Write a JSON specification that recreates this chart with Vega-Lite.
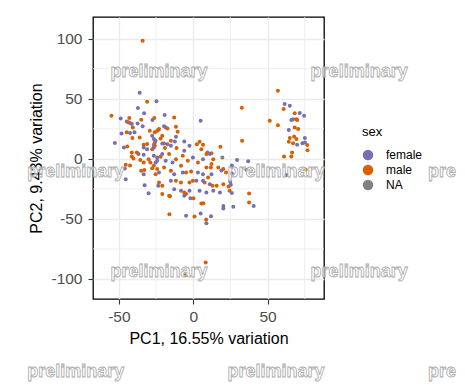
{
  "$schema": "https://vega.github.io/schema/vega-lite/v6.json",
  "autosize": {"type": "none"},
  "padding": {"left": 93, "top": 17, "right": 141, "bottom": 91},
  "width": 231,
  "height": 282,
  "background": "white",
  "config": {
    "font": "Liberation Sans",
    "view": {"stroke": "#000000", "strokeWidth": 1.3},
    "axis": {
      "domain": false,
      "grid": true,
      "gridColor": "#EBEBEB",
      "gridWidth": 1.4,
      "tickColor": "#333333",
      "tickSize": 5,
      "tickWidth": 1.1,
      "labelFont": "Liberation Sans",
      "labelFontSize": 15.5,
      "labelColor": "#4D4D4D",
      "labelPadding": 5,
      "titleFont": "Liberation Sans",
      "titleFontSize": 16,
      "titleFontWeight": "normal",
      "titleColor": "#000000"
    },
    "axisX": {"titlePadding": 6},
    "axisY": {"titlePadding": 6, "labelPadding": 6},
    "legend": {
      "orient": "none",
      "legendX": 269,
      "legendY": 109,
      "padding": 0,
      "titleFont": "Liberation Sans",
      "titleFontSize": 13,
      "titleFontWeight": "normal",
      "titleColor": "#000000",
      "titlePadding": 10,
      "labelFont": "Liberation Sans",
      "labelFontSize": 12,
      "labelColor": "#000000",
      "labelOffset": 12,
      "symbolSize": 110,
      "symbolStrokeWidth": 0,
      "rowPadding": 3
    }
  },
  "datasets": {
    "pts": [
      {"x": -34, "y": 98.3, "sex": "male"},
      {"x": -36, "y": 55, "sex": "female"},
      {"x": -31, "y": 47.5, "sex": "male"},
      {"x": -24.7, "y": 47.8, "sex": "female"},
      {"x": -37.2, "y": 42.2, "sex": "female"},
      {"x": -55, "y": 35.8, "sex": "male"},
      {"x": -48.8, "y": 33.6, "sex": "female"},
      {"x": -43, "y": 34, "sex": "male"},
      {"x": -33, "y": 37.8, "sex": "female"},
      {"x": -19.2, "y": 36.4, "sex": "female"},
      {"x": -12.8, "y": 34.4, "sex": "male"},
      {"x": -27.4, "y": 32.2, "sex": "female"},
      {"x": -26.2, "y": 34, "sex": "male"},
      {"x": -35, "y": 32.5, "sex": "male"},
      {"x": -44.7, "y": 31, "sex": "female"},
      {"x": -42.5, "y": 29.7, "sex": "female"},
      {"x": -41.3, "y": 28.9, "sex": "female"},
      {"x": -43.6, "y": 30.3, "sex": "male"},
      {"x": -37.4, "y": 29.4, "sex": "female"},
      {"x": -34, "y": 27, "sex": "female"},
      {"x": -40.6, "y": 26.1, "sex": "male"},
      {"x": -48.2, "y": 21, "sex": "female"},
      {"x": -42.5, "y": 21.4, "sex": "female"},
      {"x": -39.5, "y": 22, "sex": "female"},
      {"x": -44.7, "y": 22, "sex": "male"},
      {"x": -40.9, "y": 17.3, "sex": "male"},
      {"x": -36, "y": 17.8, "sex": "male"},
      {"x": -29.2, "y": 23.3, "sex": "male"},
      {"x": -25.8, "y": 22, "sex": "male"},
      {"x": -27.6, "y": 19.2, "sex": "female"},
      {"x": -26.5, "y": 16.4, "sex": "female"},
      {"x": -24.2, "y": 23.3, "sex": "male"},
      {"x": -23, "y": 24.7, "sex": "male"},
      {"x": -52.7, "y": 13.2, "sex": "female"},
      {"x": -31, "y": 12.2, "sex": "male"},
      {"x": -33.3, "y": 11.7, "sex": "male"},
      {"x": -26.5, "y": 11.7, "sex": "female"},
      {"x": -25.8, "y": 13.6, "sex": "male"},
      {"x": 5, "y": 31.7, "sex": "female"},
      {"x": -19.6, "y": 27, "sex": "female"},
      {"x": -18.5, "y": 26.1, "sex": "female"},
      {"x": -17.3, "y": 25.3, "sex": "male"},
      {"x": -11.6, "y": 26.7, "sex": "male"},
      {"x": -10.5, "y": 22.5, "sex": "male"},
      {"x": -23.5, "y": 23.9, "sex": "male"},
      {"x": -20.8, "y": 19.2, "sex": "male"},
      {"x": -21.9, "y": 16.9, "sex": "male"},
      {"x": -15, "y": 15, "sex": "male"},
      {"x": -19.6, "y": 12.8, "sex": "male"},
      {"x": -11.6, "y": 18.3, "sex": "female"},
      {"x": -12.3, "y": 14.4, "sex": "female"},
      {"x": -6, "y": 14.4, "sex": "female"},
      {"x": -25.3, "y": 15, "sex": "female"},
      {"x": 4.3, "y": 14.2, "sex": "male"},
      {"x": 2.5, "y": 12, "sex": "male"},
      {"x": 6.6, "y": 11.7, "sex": "male"},
      {"x": -17.3, "y": 12, "sex": "female"},
      {"x": 5.5, "y": 8, "sex": "male"},
      {"x": 18.3, "y": 10, "sex": "male"},
      {"x": 32.9, "y": 15, "sex": "male"},
      {"x": 32.7, "y": 42.5, "sex": "male"},
      {"x": 12.3, "y": 4.7, "sex": "male"},
      {"x": 9.6, "y": 5.3, "sex": "female"},
      {"x": 19.6, "y": 1, "sex": "NA"},
      {"x": 29.5, "y": -1, "sex": "female"},
      {"x": 37, "y": -2, "sex": "female"},
      {"x": 57, "y": 56.7, "sex": "male"},
      {"x": 61.5, "y": 45.6, "sex": "female"},
      {"x": 65, "y": 44.2, "sex": "female"},
      {"x": 60.9, "y": 41.4, "sex": "male"},
      {"x": 51.5, "y": 31.7, "sex": "male"},
      {"x": 57, "y": 28, "sex": "male"},
      {"x": 68.3, "y": 37.8, "sex": "male"},
      {"x": 71.7, "y": 38, "sex": "female"},
      {"x": 74.6, "y": 35.8, "sex": "female"},
      {"x": 66, "y": 32.2, "sex": "female"},
      {"x": 67.2, "y": 32.8, "sex": "female"},
      {"x": 69.4, "y": 33, "sex": "male"},
      {"x": 70, "y": 32.2, "sex": "male"},
      {"x": 68.3, "y": 26.1, "sex": "male"},
      {"x": 70.6, "y": 24.7, "sex": "male"},
      {"x": 64.3, "y": 23.9, "sex": "female"},
      {"x": 67.9, "y": 18.6, "sex": "male"},
      {"x": 69.4, "y": 16.4, "sex": "male"},
      {"x": 65, "y": 17.3, "sex": "male"},
      {"x": 75.1, "y": 17.3, "sex": "female"},
      {"x": 67.2, "y": 13, "sex": "male"},
      {"x": 64.3, "y": 14.2, "sex": "male"},
      {"x": 69.9, "y": 11.7, "sex": "female"},
      {"x": 73.5, "y": 13, "sex": "female"},
      {"x": 75.1, "y": 13.6, "sex": "female"},
      {"x": 76.7, "y": 11.4, "sex": "male"},
      {"x": 76.9, "y": 7.2, "sex": "male"},
      {"x": 66.5, "y": 5.3, "sex": "male"},
      {"x": 66, "y": 1.9, "sex": "male"},
      {"x": 61.1, "y": 1.9, "sex": "male"},
      {"x": 75.7, "y": -9.2, "sex": "male"},
      {"x": 62.7, "y": -13.6, "sex": "female"},
      {"x": -46.6, "y": 9.4, "sex": "female"},
      {"x": -44.3, "y": 10.3, "sex": "male"},
      {"x": -41.3, "y": 1.9, "sex": "male"},
      {"x": -40.2, "y": 0.3, "sex": "male"},
      {"x": -45.4, "y": -5, "sex": "male"},
      {"x": -42.5, "y": -5.6, "sex": "male"},
      {"x": -46, "y": -8, "sex": "female"},
      {"x": -35.6, "y": -1.1, "sex": "male"},
      {"x": -33.3, "y": -3, "sex": "male"},
      {"x": -36.8, "y": 3.9, "sex": "female"},
      {"x": -33.3, "y": 3.3, "sex": "female"},
      {"x": -30, "y": -0.3, "sex": "male"},
      {"x": -28.8, "y": -3, "sex": "male"},
      {"x": -26.5, "y": -5.8, "sex": "male"},
      {"x": -27.6, "y": -7.8, "sex": "male"},
      {"x": -26.5, "y": 2.5, "sex": "female"},
      {"x": -24.2, "y": 1.1, "sex": "female"},
      {"x": -25.3, "y": -3, "sex": "female"},
      {"x": -25.8, "y": 10.8, "sex": "male"},
      {"x": -27.6, "y": 8, "sex": "male"},
      {"x": -33.3, "y": 9.4, "sex": "female"},
      {"x": -31, "y": 8, "sex": "female"},
      {"x": -26.5, "y": 9.4, "sex": "female"},
      {"x": -37.9, "y": 5.3, "sex": "male"},
      {"x": -41.3, "y": 5.3, "sex": "male"},
      {"x": -33.3, "y": -12.8, "sex": "female"},
      {"x": -30, "y": -28.6, "sex": "female"},
      {"x": -23.5, "y": -22.5, "sex": "female"},
      {"x": -25.3, "y": -12.8, "sex": "male"},
      {"x": -24.2, "y": -8.6, "sex": "male"},
      {"x": -32.7, "y": -22, "sex": "female"},
      {"x": -35, "y": -10, "sex": "male"},
      {"x": -32.9, "y": -9.4, "sex": "male"},
      {"x": -45.4, "y": -17, "sex": "female"},
      {"x": -15.6, "y": -31.2, "sex": "male"},
      {"x": -19, "y": 8.9, "sex": "male"},
      {"x": -11.2, "y": 8.9, "sex": "male"},
      {"x": -16.2, "y": 3.9, "sex": "male"},
      {"x": -21.9, "y": 1.7, "sex": "male"},
      {"x": -11.6, "y": -0.3, "sex": "male"},
      {"x": -7, "y": 2.5, "sex": "male"},
      {"x": -3.6, "y": -1.7, "sex": "male"},
      {"x": 3.2, "y": -3, "sex": "male"},
      {"x": 8.9, "y": 3.9, "sex": "male"},
      {"x": 13.5, "y": -0.3, "sex": "male"},
      {"x": -19.6, "y": -7.2, "sex": "male"},
      {"x": -15, "y": -10, "sex": "male"},
      {"x": -8.2, "y": -5.8, "sex": "male"},
      {"x": -4.8, "y": -11.4, "sex": "male"},
      {"x": -1.4, "y": -10.6, "sex": "male"},
      {"x": 8.9, "y": -7.2, "sex": "male"},
      {"x": 12.3, "y": -4.4, "sex": "male"},
      {"x": -23, "y": -19.8, "sex": "male"},
      {"x": -20.8, "y": -22.5, "sex": "male"},
      {"x": -11.6, "y": -18.3, "sex": "male"},
      {"x": -8.2, "y": -19.8, "sex": "male"},
      {"x": -2.5, "y": -19.8, "sex": "male"},
      {"x": -0.2, "y": -18.3, "sex": "male"},
      {"x": 7.7, "y": -19.8, "sex": "male"},
      {"x": 10, "y": -15.6, "sex": "male"},
      {"x": -20.8, "y": -29.4, "sex": "male"},
      {"x": -16.2, "y": -30.8, "sex": "male"},
      {"x": -6, "y": -28, "sex": "male"},
      {"x": -4.8, "y": -29.4, "sex": "male"},
      {"x": -20.8, "y": 12.8, "sex": "female"},
      {"x": -15, "y": 10.8, "sex": "female"},
      {"x": -2.5, "y": 10.8, "sex": "female"},
      {"x": -6, "y": 6.7, "sex": "female"},
      {"x": -20.8, "y": 3.9, "sex": "female"},
      {"x": -24.2, "y": -1.7, "sex": "female"},
      {"x": -18.5, "y": -1.7, "sex": "female"},
      {"x": -13.9, "y": -3, "sex": "female"},
      {"x": -0.2, "y": 1.1, "sex": "female"},
      {"x": 6.6, "y": -0.3, "sex": "female"},
      {"x": 11.2, "y": 3.9, "sex": "female"},
      {"x": -23, "y": -11.4, "sex": "female"},
      {"x": -12.8, "y": -12.8, "sex": "female"},
      {"x": -7, "y": -11.4, "sex": "female"},
      {"x": 3.2, "y": -11.4, "sex": "female"},
      {"x": 6.6, "y": -12.8, "sex": "female"},
      {"x": 12.3, "y": -12.8, "sex": "female"},
      {"x": -15, "y": -18.3, "sex": "female"},
      {"x": 2.1, "y": -18.3, "sex": "female"},
      {"x": 6.6, "y": -18.3, "sex": "female"},
      {"x": 11.2, "y": -21.1, "sex": "female"},
      {"x": -12.8, "y": -25.3, "sex": "female"},
      {"x": -8.2, "y": -26.7, "sex": "female"},
      {"x": -2.5, "y": -26.7, "sex": "female"},
      {"x": 4.3, "y": -26.7, "sex": "female"},
      {"x": 8.9, "y": -28, "sex": "female"},
      {"x": 13.5, "y": -26.7, "sex": "female"},
      {"x": 11.9, "y": -7.2, "sex": "male"},
      {"x": 16.9, "y": -7.2, "sex": "male"},
      {"x": 20.3, "y": -8.6, "sex": "male"},
      {"x": 19, "y": -9.8, "sex": "female"},
      {"x": 22.1, "y": -11.4, "sex": "male"},
      {"x": 26, "y": -12.2, "sex": "female"},
      {"x": 24.9, "y": -19.2, "sex": "female"},
      {"x": 25.3, "y": -21.7, "sex": "female"},
      {"x": 13, "y": -22.5, "sex": "male"},
      {"x": 15.8, "y": -22.5, "sex": "male"},
      {"x": 20.3, "y": -21.1, "sex": "male"},
      {"x": 23.8, "y": -23, "sex": "male"},
      {"x": 24.5, "y": -26.7, "sex": "male"},
      {"x": 18, "y": -28, "sex": "female"},
      {"x": 26, "y": -28.5, "sex": "female"},
      {"x": 37.6, "y": -28.8, "sex": "male"},
      {"x": 37.6, "y": -36.4, "sex": "male"},
      {"x": 40.7, "y": -39.2, "sex": "female"},
      {"x": 20.3, "y": -39.2, "sex": "female"},
      {"x": 20.3, "y": -41.4, "sex": "female"},
      {"x": 27, "y": -40, "sex": "female"},
      {"x": 12, "y": -47.8, "sex": "female"},
      {"x": 35.8, "y": -9.2, "sex": "NA"},
      {"x": 26, "y": -5.6, "sex": "female"},
      {"x": -16, "y": -46.1, "sex": "male"},
      {"x": -4.8, "y": -47.5, "sex": "female"},
      {"x": 0.9, "y": -48, "sex": "male"},
      {"x": 5, "y": -45.5, "sex": "female"},
      {"x": 8.7, "y": -50.6, "sex": "male"},
      {"x": 8.9, "y": -53.6, "sex": "female"},
      {"x": 5.5, "y": -37.2, "sex": "male"},
      {"x": 6.8, "y": -37, "sex": "male"},
      {"x": -1.8, "y": -32.8, "sex": "female"},
      {"x": -6, "y": -30.8, "sex": "female"},
      {"x": 0.2, "y": -32.8, "sex": "male"},
      {"x": 8.4, "y": -86.4, "sex": "male"},
      {"x": -5.3, "y": -97, "sex": "male"}
    ],
    "minorx": [{"v": -25}, {"v": 25}, {"v": 75}],
    "minory": [{"v": -75}, {"v": -25}, {"v": 25}, {"v": 75}],
    "wm": [
      {"wx": -55.7, "wy": 72.2, "t": "preliminary"},
      {"wx": 79, "wy": 72.2, "t": "preliminary"},
      {"wx": -111.7, "wy": -11.1, "t": "preliminary"},
      {"wx": 23.1, "wy": -11.1, "t": "preliminary"},
      {"wx": 157.9, "wy": -11.1, "t": "pre"},
      {"wx": -55.7, "wy": -94.5, "t": "preliminary"},
      {"wx": 79, "wy": -94.5, "t": "preliminary"},
      {"wx": -111.7, "wy": -177.8, "t": "preliminary"},
      {"wx": 23.1, "wy": -177.8, "t": "preliminary"},
      {"wx": 157.9, "wy": -177.8, "t": "pre"}
    ]
  },
  "layer": [
    {
      "data": {"name": "minorx"},
      "mark": {"type": "rule", "color": "#EBEBEB", "strokeWidth": 0.8},
      "encoding": {
        "x": {"field": "v", "type": "quantitative", "title": "PC1, 16.55% variation",
              "scale": {"domain": [-67.4, 88], "nice": false, "zero": false},
              "axis": {"values": [-50, 0, 50], "labelExpr": "toString(datum.value)"}}
      }
    },
    {
      "data": {"name": "minory"},
      "mark": {"type": "rule", "color": "#EBEBEB", "strokeWidth": 0.8},
      "encoding": {
        "y": {"field": "v", "type": "quantitative", "title": "PC2, 9.43% variation",
              "scale": {"domain": [-116.7, 118], "nice": false, "zero": false},
              "axis": {"values": [-100, -50, 0, 50, 100], "labelExpr": "toString(datum.value)"}}
      }
    },
    {
      "data": {"name": "pts"},
      "mark": {"type": "circle", "size": 16, "opacity": 1},
      "encoding": {
        "x": {"field": "x", "type": "quantitative", "title": "PC1, 16.55% variation",
              "scale": {"domain": [-67.4, 88], "nice": false, "zero": false},
              "axis": {"values": [-50, 0, 50], "labelExpr": "toString(datum.value)"}},
        "y": {"field": "y", "type": "quantitative", "title": "PC2, 9.43% variation",
              "scale": {"domain": [-116.7, 118], "nice": false, "zero": false},
              "axis": {"values": [-100, -50, 0, 50, 100], "labelExpr": "toString(datum.value)"}},
        "color": {"field": "sex", "type": "nominal", "title": "sex",
                  "scale": {"domain": ["female", "male", "NA"], "range": ["#7570B3", "#D95F02", "#808080"]},
                  "legend": {"symbolType": "circle"}}
      }
    },
    {
      "data": {"name": "wm"},
      "mark": {"type": "text", "align": "left", "baseline": "middle", "font": "Liberation Sans",
               "fontSize": 18, "fontWeight": "bold", "fill": "#FFFFFF", "fillOpacity": 0.6,
               "stroke": "#A8A8A8", "strokeWidth": 0.8},
      "encoding": {
        "x": {"field": "wx", "type": "quantitative", "title": "PC1, 16.55% variation"},
        "y": {"field": "wy", "type": "quantitative", "title": "PC2, 9.43% variation"},
        "text": {"field": "t"}
      }
    }
  ]
}
